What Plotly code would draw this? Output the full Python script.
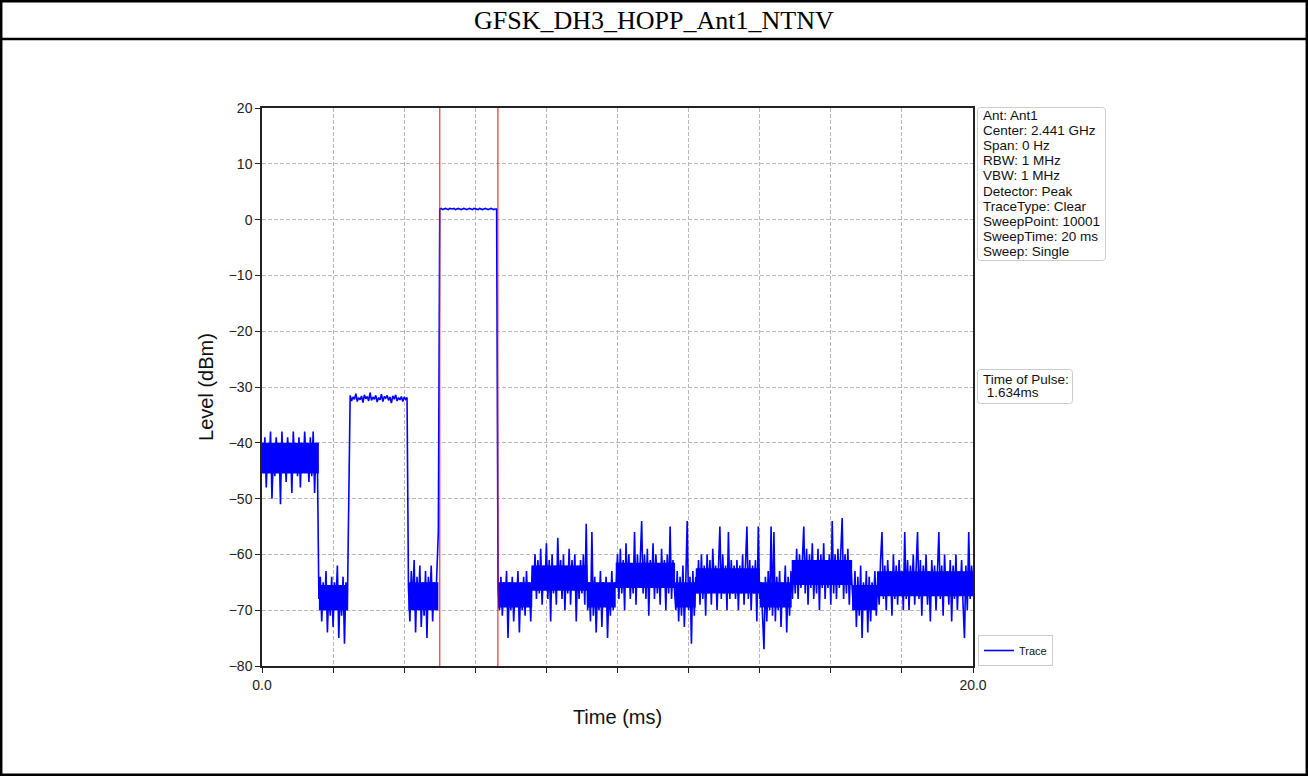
import numpy as np
import plotly.graph_objects as go

# ---------------- data ----------------
SWEEP_TIME_MS = 20.0
PULSE_START_MS = 5.0
PULSE_END_MS = 6.634
PULSE_LINES = ["Time of Pulse:", " 1.634ms"]
INFO_LINES = ["Ant: Ant1", "Center: 2.441 GHz", "Span: 0 Hz", "RBW: 1 MHz", "VBW: 1 MHz",
              "Detector: Peak", "TraceType: Clear", "SweepPoint: 10001",
              "SweepTime: 20 ms", "Sweep: Single"]
TITLE = "GFSK_DH3_HOPP_Ant1_NTNV"
X_TICK_VALS = [0, 2, 4, 6, 8, 10, 12, 14, 16, 18, 20]
X_TICK_TEXT = ["0.0", "", "", "", "", "", "", "", "", "", "20.0"]
Y_TICK_VALS = [-80, -70, -60, -50, -40, -30, -20, -10, 0, 10, 20]

# trace levels (dBm) at 0.04 ms steps
level_hop1 = [-40, -45, -39, -48, -41, -44, -38, -50, -42, -46,
              -39, -44, -40, -51, -38, -45, -41, -47, -39, -43,
              -40, -49, -38, -44, -41, -46, -39, -48, -40, -45,
              -38, -43, -41, -47, -39, -46, -38, -49, -40, -44]
level_gap1 = [-68, -64, -72, -65, -70, -63, -74, -66, -71, -64,
              -73, -65, -69, -62, -75, -66, -71, -64, -76, -65, -70]
level_rise = [-46]
level_hop2 = [-31.5, -32.5, -31.8, -32.2, -31.2, -32.6, -31.9, -32.3, -31.6, -32.8,
              -31.4, -32.1, -31.7, -32.5, -31.0, -32.4, -31.8, -32.2, -31.5, -32.7,
              -31.9, -32.3, -31.3, -32.6, -31.7, -32.0, -31.5, -32.4, -31.8, -32.9,
              -31.6, -32.2, -31.4, -32.5, -31.9, -32.3, -31.7, -32.6, -31.8, -32.2, -31.9]
level_gap2 = [-66, -72, -63, -69, -61, -74, -64, -70, -62, -73,
              -65, -71, -63, -75, -64, -69, -62, -72, -65, -70, -63, -56]
level_pulse = [1.9, 2.0, 1.8, 1.9, 2.0, 1.9, 1.8, 2.0, 1.9, 1.9,
               2.0, 1.8, 1.9, 2.0, 1.9, 1.8, 1.9, 2.0, 1.9, 1.8,
               1.9, 2.0, 1.9, 1.8, 2.0, 1.9, 1.9, 1.8, 2.0, 1.9,
               1.8, 1.9, 2.0, 1.9, 1.8, 1.9, 2.0, 1.9, 1.8, 1.9, 1.9]
level_tail = [
    -66, -70, -64, -71, -65, -69, -63, -75, -65, -70,
    -64, -72, -66, -69, -63, -74, -65, -70, -64, -71,
    -63, -69, -65, -72, -62,
    -66, -60, -68, -61, -67, -59, -69, -62, -66, -58,
    -68, -61, -72, -60, -67, -62, -69, -57, -66, -61,
    -68, -60, -70, -62, -67, -59, -69, -61, -66, -60,
    -72, -62, -68, -61, -67, -60, -69, -54.5,
    -70, -65, -72, -56, -71, -64, -74, -66, -70, -63,
    -73, -65, -69, -64, -75, -66, -71, -63, -70, -65,
    -66, -60, -68, -59, -67, -61, -70, -58, -66, -60,
    -68, -62, -67, -56, -69, -60, -66, -61, -54, -67,
    -60, -68, -59, -71, -61, -66, -58, -68, -60, -67,
    -62, -69, -59, -66, -61, -70, -60, -67, -55, -68,
    -61, -66,
    -70, -63, -72, -64, -71, -62, -73, -65, -54, -70, -64, -76, -63, -71, -64,
    -67, -61, -69, -60, -68, -62, -71, -60, -67, -61,
    -69, -59, -66, -62, -70, -61, -55, -68, -60, -67,
    -62, -70, -56, -68, -61, -67, -62,
    -68, -61, -70, -62, -67, -60, -69, -62, -55, -68,
    -61, -70, -62, -67, -61, -72, -55, -68,
    -65, -71, -77, -64, -72, -63, -70, -55, -71, -56,
    -72, -64, -70, -63, -73, -65, -69, -62, -74, -64,
    -71, -63, -68,
    -62, -67, -59, -68, -60, -66, -61, -55, -67, -59,
    -69, -60, -66, -58, -68, -61, -67, -59, -70, -60,
    -66, -58, -68, -61, -66, -60, -69, -54, -67, -60,
    -68, -59, -66, -61, -53.5, -68, -60, -67, -59, -69,
    -61, -66,
    -70, -63, -73, -64, -71, -62, -75, -65, -70, -63,
    -74, -64, -72, -65, -69, -63, -71,
    -64, -69, -61, -56, -68, -62, -70, -61, -67, -63,
    -71, -60, -68, -62, -69, -61, -66, -63, -70, -56,
    -68, -61, -70, -62, -67, -60, -69, -63, -56, -68,
    -61, -71, -62, -67, -60, -69, -63, -72, -61, -67,
    -62, -70, -61, -56, -68, -62, -71, -60, -67, -63,
    -69, -61, -72, -62, -68, -60, -70, -63, -67, -61,
    -69, -75, -62, -70, -56, -68, -62, -66]

level = (level_hop1 + level_gap1 + level_rise + level_hop2 + level_gap2
         + level_pulse + level_tail)
time_ms = np.linspace(0, SWEEP_TIME_MS, len(level))

# dense core of the noise band per segment (dBm)
band_start_ms = [0.0, 1.60, 4.12, 6.64, 7.60, 9.15, 9.95, 11.62, 12.20, 13.30, 14.00, 14.90, 16.60, 17.30]
band_end_ms   = [1.60, 2.42, 4.96, 7.60, 9.15, 9.95, 11.62, 12.20, 13.30, 14.00, 14.90, 16.60, 17.30, 20.00]
band_low  = [-45.5, -70.0, -70.0, -69.5, -66.5, -69.5, -66.0, -69.5, -67.0, -67.0, -69.5, -65.5, -70.0, -67.5]
band_high = [-40.0, -65.5, -65.0, -65.0, -62.0, -65.0, -61.5, -65.0, -62.5, -62.5, -65.0, -61.0, -65.5, -63.0]

# ---------------- figure ----------------
W, H = 1308, 776
L, R, T, B = 262, 973, 108, 666          # plot area in pixels
PW, PH = R - L, B - T


def px(x):
    return (x - L) / PW


def py(y):
    return (B - y) / PH


fig = go.Figure()

bx, by = [], []
for s, e, lo, hi in zip(band_start_ms, band_end_ms, band_low, band_high):
    bx += [s, e, e, s, s, None]
    by += [hi, hi, lo, lo, hi, None]
fig.add_trace(go.Scatter(x=bx, y=by, mode="lines", fill="toself",
                         fillcolor="#0000ff", line=dict(width=0, color="#0000ff"),
                         showlegend=False, hoverinfo="skip"))

fig.add_trace(go.Scatter(x=time_ms, y=level, mode="lines", name="Trace",
                         line=dict(color="#0000ff", width=1.6)))

for xv in (PULSE_START_MS, PULSE_END_MS):
    fig.add_shape(type="line", xref="x", yref="paper", x0=xv, x1=xv, y0=0, y1=1,
                  line=dict(color="rgba(255,0,0,0.75)", width=1.3))

# outer frame & title box
frame = dict(color="black", width=2.5)
fig.add_shape(type="rect", xref="paper", yref="paper",
              x0=px(1.2), x1=px(1306.8), y0=py(774.8), y1=py(1.2), line=frame, layer="above")
fig.add_shape(type="line", xref="paper", yref="paper",
              x0=px(1), x1=px(1307), y0=py(39), y1=py(39), line=frame)
fig.add_annotation(text=TITLE, xref="paper", yref="paper", x=px(654), y=py(21),
                   showarrow=False, xanchor="center", yanchor="middle",
                   font=dict(family="Liberation Serif", size=26, color="black"))


def rounded_box(x0, y0, x1, y1, r=3):
    # pixel coords -> paper path with rounded corners
    X = lambda v: px(v)
    Y = lambda v: py(v)
    return (f"M {X(x0 + r)},{Y(y0)} L {X(x1 - r)},{Y(y0)} Q {X(x1)},{Y(y0)} {X(x1)},{Y(y0 + r)} "
            f"L {X(x1)},{Y(y1 - r)} Q {X(x1)},{Y(y1)} {X(x1 - r)},{Y(y1)} "
            f"L {X(x0 + r)},{Y(y1)} Q {X(x0)},{Y(y1)} {X(x0)},{Y(y1 - r)} "
            f"L {X(x0)},{Y(y0 + r)} Q {X(x0)},{Y(y0)} {X(x0 + r)},{Y(y0)} Z")


box_line = dict(color="#cccccc", width=1)
fig.add_shape(type="path", xref="paper", yref="paper", path=rounded_box(977.5, 107.5, 1105.5, 260.5),
              line=box_line, fillcolor="white")
fig.add_shape(type="path", xref="paper", yref="paper", path=rounded_box(977.5, 369.5, 1072.5, 403.5),
              line=box_line, fillcolor="white")

text_font = dict(family="Liberation Sans", size=13.5, color="#111")
for i, s in enumerate(INFO_LINES):
    fig.add_annotation(text=s, xref="paper", yref="paper", x=px(980.5), y=py(115.5 + 15.1 * i),
                       xanchor="left", yanchor="middle", showarrow=False, font=text_font)
for i, s in enumerate(PULSE_LINES):
    fig.add_annotation(text=s.replace(" ", "&nbsp;"), xref="paper", yref="paper", x=px(980.5),
                       y=py(379.5 + 13.2 * i),
                       xanchor="left", yanchor="middle", showarrow=False, font=text_font)

axis_common = dict(showline=True, linecolor="#222", linewidth=1.5, mirror=True,
                   ticks="outside", ticklen=5, tickcolor="#222", tickwidth=1.2,
                   showgrid=True, gridcolor="#b8b8b8", griddash="4px,2px", gridwidth=0.8,
                   zeroline=False,
                   tickfont=dict(family="Liberation Sans", size=14, color="#222"))

fig.update_xaxes(range=[0, SWEEP_TIME_MS], tickvals=X_TICK_VALS, ticktext=X_TICK_TEXT,
                 title=dict(text="Time (ms)", standoff=18,
                            font=dict(family="Liberation Sans", size=20, color="#111")),
                 **axis_common)
fig.update_yaxes(range=[-80, 20], tickvals=Y_TICK_VALS,
                 title=dict(text="Level (dBm)", standoff=10,
                            font=dict(family="Liberation Sans", size=20, color="#111")),
                 **axis_common)

fig.update_layout(
    width=W, height=H, autosize=False,
    margin=dict(l=L, r=W - R, t=T, b=H - B, pad=0),
    paper_bgcolor="white", plot_bgcolor="white",
    showlegend=True,
    legend=dict(x=px(978), y=0, xanchor="left", yanchor="bottom",
                bgcolor="white", bordercolor="#cccccc", borderwidth=1,
                font=dict(family="Liberation Sans", size=11, color="#111"),
                itemwidth=30, tracegroupgap=0),
)

fig.write_html("out.html", config={"displayModeBar": False},
               post_script="document.body.style.margin='0px';")
